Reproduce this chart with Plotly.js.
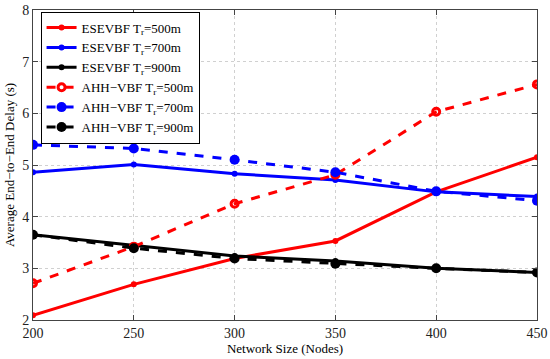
<!DOCTYPE html>
<html><head><meta charset="utf-8">
<script src="https://cdn.plot.ly/plotly-3.0.1.min.js"></script>
<style>body{margin:0;background:#fff}#c{width:550px;height:359px}</style>
</head><body><div id="c"></div>
<script>
const networkSize = [200, 250, 300, 350, 400, 450];
const esevbf500 = [2.09, 2.69, 3.19, 3.53, 4.48, 5.15];
const esevbf700 = [4.86, 5.01, 4.83, 4.71, 4.48, 4.39];
const esevbf900 = [3.65, 3.44, 3.24, 3.14, 3.0, 2.92];
const ahh500 = [2.71, 3.42, 4.25, 4.81, 6.03, 6.56];
const ahh700 = [5.39, 5.32, 5.1, 4.86, 4.49, 4.31];
const ahh900 = [3.65, 3.39, 3.19, 3.09, 3.0, 2.92];
const names = ['ESEVBF T<sub>r</sub>=500m','ESEVBF T<sub>r</sub>=700m','ESEVBF T<sub>r</sub>=900m',
  'AHH\u2212VBF T<sub>r</sub>=500m','AHH\u2212VBF T<sub>r</sub>=700m','AHH\u2212VBF T<sub>r</sub>=900m'];
const series = [esevbf500, esevbf700, esevbf900, ahh500, ahh700, ahh900];
const colors = ['#ff0000','#0000ff','#000000','#ff0000','#0000ff','#000000'];
const traces = series.map((s,i)=>{
  const dashed = i>=3;
  return {
    x: networkSize, y: s, name: names[i], mode:'lines+markers', type:'scatter',
    line:{color:colors[i], width:3, dash: dashed?'dash':'solid'},
    marker:{color:colors[i], size: i===3?7:(dashed?10:6), symbol: (i===3)?'circle-open':'circle', line:{width: i===3?3:0, color:colors[i]}}
  };
});
const layout = {
  width:550, height:359,
  margin:{l:33, r:13, t:10, b:39},
  paper_bgcolor:'#fff', plot_bgcolor:'#fff',
  font:{family:'Liberation Serif, Times New Roman, serif', size:12, color:'#000'},
  xaxis:{range:[200,450], tickvals:networkSize, showgrid:true, gridcolor:'#d0d0d0', griddash:'dot', gridwidth:1,
    showline:true, linecolor:'#444', linewidth:1, mirror:'ticks', ticks:'inside', ticklen:5, tickcolor:'#444',
    zeroline:false, tickfont:{size:14, color:'#222'},
    title:{text:'Network Size (Nodes)', font:{size:13}, standoff:1}},
  yaxis:{range:[2,8], dtick:1, showgrid:true, gridcolor:'#d0d0d0', griddash:'dot', gridwidth:1,
    showline:true, linecolor:'#444', linewidth:1, mirror:'ticks', ticks:'inside', ticklen:5, tickcolor:'#444',
    zeroline:false, tickfont:{size:14, color:'#222'},
    title:{text:'Average End\u2212to\u2212End Delay (s)', font:{size:13}, standoff:4}},
  legend:{x:0.015, y:0.995, xanchor:'left', yanchor:'top', bgcolor:'#fff', bordercolor:'#000', borderwidth:1,
    font:{size:13}, tracegroupgap:0, itemwidth:30},
  showlegend:true
};
Plotly.newPlot('c', traces, layout, {displayModeBar:false, staticPlot:true});
</script></body></html>
